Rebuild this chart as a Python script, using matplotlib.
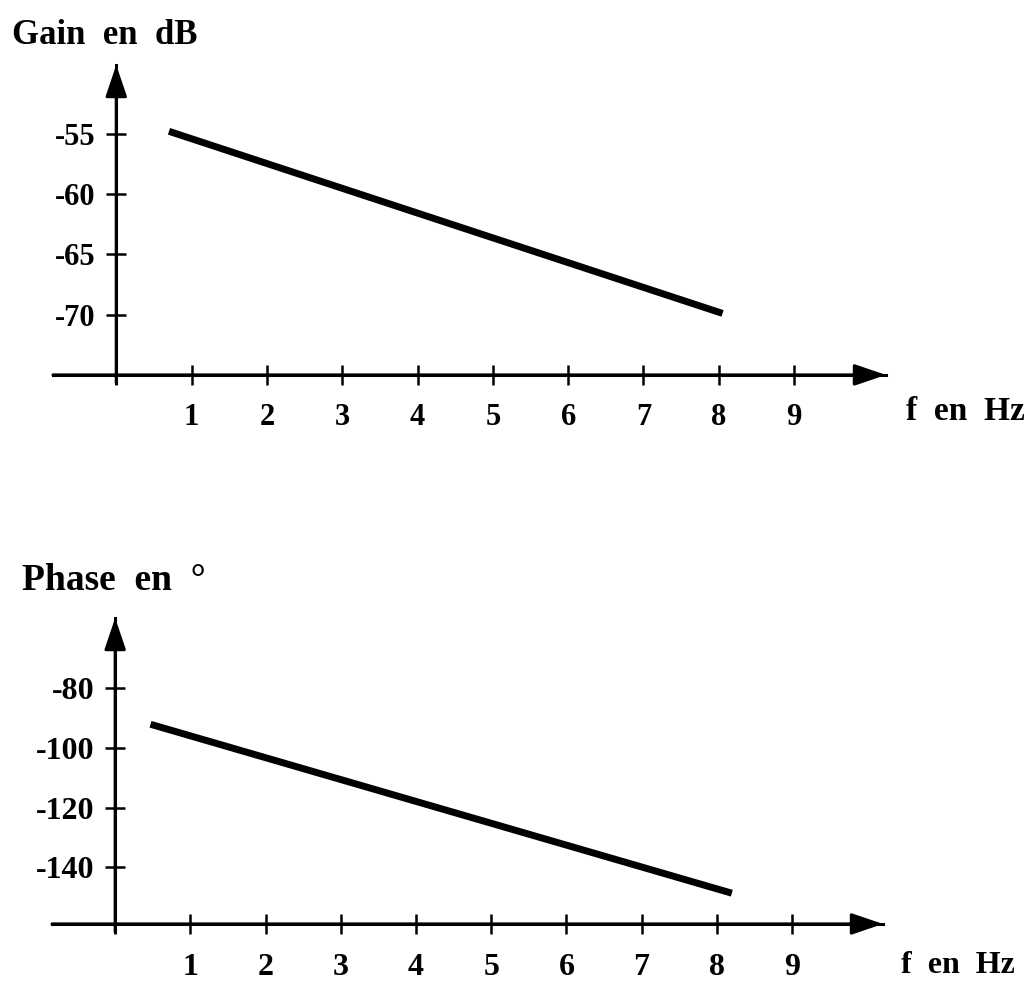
import numpy as np
import matplotlib
matplotlib.use('Agg')
import matplotlib.pyplot as plt

# Donnees
freq_ticks = [1, 2, 3, 4, 5, 6, 7, 8, 9]
gain_ticks = [-55, -60, -65, -70]
phase_ticks = [-80, -100, -120, -140]

gain_f = [0.7, 8.05]
gain_db = [-54.8, -69.9]

phase_f = [0.47, 8.2]
phase_deg = [-92.1, -148.7]

plt.rcParams['font.family'] = ['Liberation Serif', 'DejaVu Serif']
plt.rcParams['font.weight'] = 'bold'

W, H = 1030, 982
fig = plt.figure(figsize=(W / 100, H / 100), dpi=100)


def make_axes(px_left, px_right, px_top, px_bottom):
    return fig.add_axes([px_left / W, 1 - px_bottom / H,
                         (px_right - px_left) / W, (px_bottom - px_top) / H])


def draw_panel(ax, xlim, ylim, xaxis_y, yticks, f, v, fs, xpad):
    ax.set_xlim(*xlim)
    ax.set_ylim(*ylim)
    for s in ['top', 'right']:
        ax.spines[s].set_visible(False)
    ax.spines['left'].set_position(('data', 0))
    ax.spines['bottom'].set_position(('data', xaxis_y))
    for s in ['left', 'bottom']:
        ax.spines[s].set_linewidth(2.2)
    # fleches des axes
    arrow = dict(arrowstyle='-|>,head_length=0.97,head_width=0.33',
                 lw=2.2, color='black', mutation_scale=20,
                 shrinkA=0, shrinkB=0)
    ax.annotate('', xy=(xlim[1], xaxis_y), xytext=(xlim[0], xaxis_y),
                arrowprops=arrow, annotation_clip=False)
    ax.annotate('', xy=(0, ylim[1]), xytext=(0, ylim[0]),
                arrowprops=arrow, annotation_clip=False)
    ax.set_xticks([0] + freq_ticks)
    ax.set_xticklabels([''] + [str(t) for t in freq_ticks])
    ax.set_yticks(yticks)
    ax.set_yticklabels([str(t) for t in yticks])
    ax.tick_params(axis='both', direction='inout', length=14, width=1.8,
                   labelsize=fs)
    ax.tick_params(axis='x', pad=xpad)
    ax.tick_params(axis='y', pad=8)
    ax.plot(f, v, color='black', lw=5, solid_capstyle='butt')
    ax.patch.set_visible(False)


ax1 = make_axes(53, 886, 65, 383)
draw_panel(ax1, (-0.84, 10.22), (-75.67, -49.3), -75, gain_ticks,
           gain_f, gain_db, 22, 13)

ax2 = make_axes(52, 883, 618, 932)
draw_panel(ax2, (-0.84, 10.21), (-161.7, -56.5), -159, phase_ticks,
           phase_f, phase_deg, 23, 14)

fig.text(12 / W, 1 - 44 / H, 'Gain  en  dB', fontsize=25, fontweight='bold',
         ha='left', va='baseline')
fig.text(22 / W, 1 - 590 / H, 'Phase  en  °', fontsize=27, fontweight='bold',
         ha='left', va='baseline')
fig.text(1025 / W, 1 - 420 / H, 'f  en  Hz', fontsize=24, fontweight='bold',
         ha='right', va='baseline')
fig.text(1015 / W, 1 - 973 / H, 'f  en  Hz', fontsize=23, fontweight='bold',
         ha='right', va='baseline')

fig.savefig('out.png', dpi=100)
